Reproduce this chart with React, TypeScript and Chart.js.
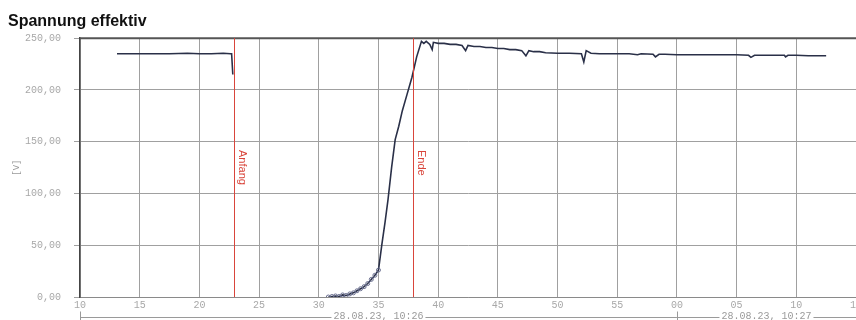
import { useEffect, useRef } from "react";
import { Chart, registerables } from "chart.js";
Chart.register(...registerables);

const titleText = "Spannung effektiv";
const yAxisTitle = "[V]";

// seconds after 10:26:00
const times: (number)[] = [
  13.1, 14.5, 16, 17.5, 19, 20, 21, 22, 22.6, 22.7, 22.8,
  26,
  30.8, 31.1, 31.4, 31.7, 32.0, 32.3, 32.6, 32.9, 33.2, 33.5, 33.8, 34.1, 34.4, 34.7, 35.0,
  35.3, 35.55, 35.8, 36.1, 36.4, 36.7, 37.0, 37.4, 37.8, 38.2, 38.6, 38.8, 39.0, 39.3, 39.5, 39.6,
  40.0, 40.5, 41.0, 41.5, 42.0, 42.3, 42.5, 43.0, 43.5, 44.0, 44.5, 45.0, 45.5, 46.0, 46.5, 47.0,
  47.35, 47.6, 48.0, 48.5, 49.0, 50.0, 51.0, 52.0, 52.2, 52.4, 52.8, 53.5, 54.5, 55.0, 56.0, 56.7,
  57.0, 58.0, 58.2, 58.5, 59.0, 60.0, 61.0, 62.0, 63.0, 64.0, 65.0, 66.0, 66.2, 66.5, 67.0, 68.0,
  69.0, 69.1, 69.3, 70.0, 71.0, 72.0, 72.5,
];
const voltages: (number | null)[] = [
  235, 235, 235, 235, 235.5, 235, 235, 235.5, 235, 235, 215,
  null,
  0, 0.5, 1, 0.5, 2, 1.5, 3, 4, 6, 8, 10, 13, 17, 21, 26,
  52, 72, 94, 125, 152, 165, 180, 196, 212, 232, 247, 245, 247, 244, 239, 246,
  245, 245, 244, 244, 243, 238, 243, 242, 242, 241, 241, 240, 240, 239, 239, 238,
  233, 238, 237, 237, 236, 235.5, 235.5, 235, 227, 238, 235.5, 235, 235, 235, 235, 234,
  235, 234.5, 232, 234.5, 234.5, 234, 234, 234, 234, 234, 234, 233.5, 231.5, 233.5, 233.5, 233.5,
  233.5, 232, 233.5, 233.5, 233, 233, 233,
];

const xMin = 10;
const xMax = 75;
const xStep = 5;
const yMin = 0;
const yMax = 250;
const yStep = 50;

const markerTimes = [22.9, 37.9];
const markerLabels = ["Anfang", "Ende"];

const segmentStarts = [0, 60];
const segmentLabels = ["28.08.23, 10:26", "28.08.23, 10:27"];

const overlayPlugin = {
  id: "overlay",
  afterDraw(chart: any) {
    const ctx = chart.ctx;
    const xs = chart.scales.x;
    const area = chart.chartArea;
    ctx.save();
    // top border
    ctx.strokeStyle = "#555";
    ctx.lineWidth = 2;
    ctx.beginPath();
    ctx.moveTo(area.left, area.top);
    ctx.lineTo(area.right, area.top);
    ctx.stroke();

    // markers
    markerTimes.forEach((t, i) => {
      const px = Math.round(xs.getPixelForValue(t)) + 0.5;
      ctx.strokeStyle = "#d9453b";
      ctx.lineWidth = 1;
      ctx.beginPath();
      ctx.moveTo(px, area.top);
      ctx.lineTo(px, area.bottom);
      ctx.stroke();
      ctx.save();
      ctx.translate(px + 2, 150);
      ctx.rotate(Math.PI / 2);
      ctx.fillStyle = "#d9453b";
      ctx.font = "11px 'Liberation Sans', Arial, sans-serif";
      ctx.textAlign = "left";
      ctx.textBaseline = "bottom";
      ctx.fillText(markerLabels[i], 0, 0);
      ctx.restore();
    });

    // date axis
    const y = Math.round(area.bottom + 20) + 0.5;
    ctx.font = "10px 'Liberation Mono', 'Courier New', monospace";
    ctx.fillStyle = "#9a9a9a";
    ctx.strokeStyle = "#9a9a9a";
    ctx.lineWidth = 1;
    ctx.textAlign = "center";
    ctx.textBaseline = "middle";
    segmentStarts.forEach((s, i) => {
      const e = i + 1 < segmentStarts.length ? segmentStarts[i + 1] : xMax;
      const a = xs.getPixelForValue(Math.max(s, xMin));
      const b = xs.getPixelForValue(Math.min(e, xMax));
      const c = (a + b) / 2;
      const w = ctx.measureText(segmentLabels[i]).width;
      ctx.beginPath();
      ctx.moveTo(a, y);
      ctx.lineTo(c - w / 2 - 2, y);
      ctx.moveTo(c + w / 2 + 2, y);
      ctx.lineTo(b, y);
      const ax = Math.round(a) + 0.5;
      ctx.moveTo(ax, y - 6);
      ctx.lineTo(ax, y + 4);
      ctx.stroke();
      ctx.fillText(segmentLabels[i], c, y - 1);
    });
    ctx.restore();
  },
};

export default function App() {
  const ref = useRef<HTMLCanvasElement | null>(null);
  useEffect(() => {
    if (!ref.current) return;
    const data = times.map((t, i) => ({ x: t, y: voltages[i] }));
    const chart = new Chart(ref.current, {
      type: "line",
      data: {
        datasets: [
          {
            data: data as any,
            borderColor: "#2a3048",
            borderWidth: 1.6,
            spanGaps: false,
            tension: 0,
            pointRadius: (c: any) => (c.parsed && c.parsed.y !== null && c.parsed.y < 30 ? 2 : 0),
            pointBorderColor: "#6b7090",
            pointBackgroundColor: "rgba(255,255,255,0)",
            pointBorderWidth: 1,
          },
        ],
      },
      options: {
        animation: false,
        responsive: false,
        maintainAspectRatio: false,
        layout: { padding: { left: 8, right: 0, top: 0, bottom: 0 } },
        plugins: {
          legend: { display: false },
          tooltip: { enabled: false },
          title: {
            display: true,
            text: titleText,
            align: "start",
            color: "#111",
            font: { family: "'Liberation Sans', Arial, sans-serif", size: 16, weight: "bold" },
            padding: { top: 12, bottom: 7 },
          },
        },
        scales: {
          x: {
            type: "linear",
            min: xMin,
            max: xMax,
            ticks: {
              stepSize: xStep,
              autoSkip: false,
              maxRotation: 0,
              padding: 2,
              color: "#a8a8a8",
              font: { family: "'Liberation Mono', 'Courier New', monospace", size: 10 },
              callback: (v: any) => String(Number(v) % 60).padStart(2, "0"),
            },
            grid: { color: "#a0a0a0", lineWidth: 1, drawTicks: false, tickLength: 0 },
            border: { color: "#8a8a8a", width: 1 },
            afterFit: (s: any) => {
              s.height = 23;
              s.paddingLeft = 0;
              s.paddingRight = 0;
            },
          },
          y: {
            min: yMin,
            max: yMax,
            ticks: {
              stepSize: yStep,
              padding: 13,
              color: "#a8a8a8",
              font: { family: "'Liberation Mono', 'Courier New', monospace", size: 10 },
              callback: (v: any) => Number(v).toFixed(2).replace(".", ","),
            },
            grid: { color: "#a0a0a0", lineWidth: 1, tickLength: 6 },
            border: { color: "#444", width: 1.5 },
            title: {
              display: true,
              text: yAxisTitle,
              color: "#999",
              font: { family: "'Liberation Mono', 'Courier New', monospace", size: 9 },
              padding: { top: 3, bottom: 0 },
            },
            afterFit: (s: any) => {
              s.width = 72;
              s.paddingTop = 0;
              s.paddingBottom = 0;
            },
          },
        },
      },
      plugins: [overlayPlugin],
    });
    return () => chart.destroy();
  }, []);
  return (
    <div style={{ position: "fixed", left: 0, top: 0, width: 856, height: 320, background: "#fff" }}>
      <canvas ref={ref} width={856} height={320} />
    </div>
  );
}
